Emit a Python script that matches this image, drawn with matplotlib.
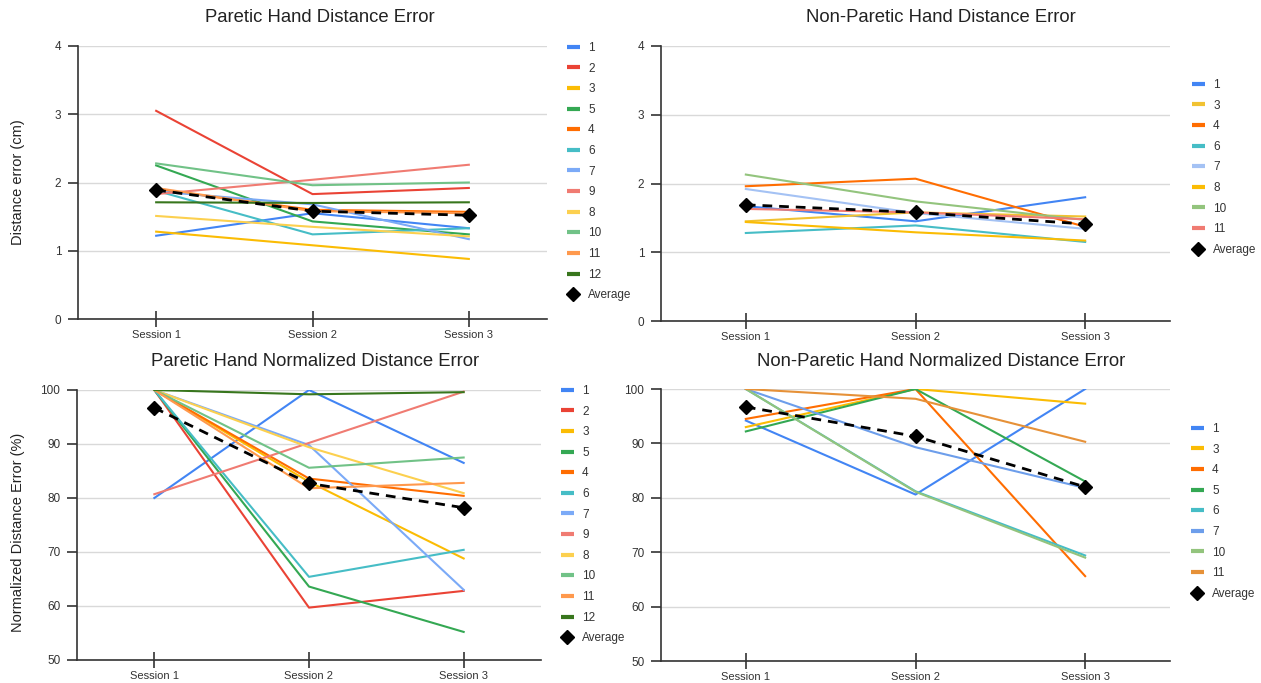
import matplotlib
matplotlib.use("Agg")
import matplotlib.pyplot as plt
from matplotlib.lines import Line2D

plt.rcParams['font.family'] = ['Liberation Sans', 'DejaVu Sans']

W, H = 1261, 683

sessions = ['Session 1', 'Session 2', 'Session 3']

# Paretic hand distance error (cm)
p_dist_ids = ['1', '2', '3', '5', '4', '6', '7', '9', '8', '10', '11', '12']
p_dist = [
    [1.22, 1.55, 1.33],
    [3.05, 1.83, 1.92],
    [1.28, 1.08, 0.88],
    [2.25, 1.43, 1.24],
    [1.90, 1.60, 1.57],
    [1.88, 1.24, 1.33],
    [1.87, 1.68, 1.17],
    [1.83, 2.04, 2.26],
    [1.51, 1.35, 1.21],
    [2.28, 1.96, 2.00],
    [1.92, 1.58, 1.55],
    [1.71, 1.70, 1.71],
]
p_dist_avg = [1.89, 1.58, 1.52]

# Non-paretic hand distance error (cm)
np_dist_ids = ['1', '3', '4', '6', '7', '8', '10', '11']
np_dist = [
    [1.67, 1.45, 1.80],
    [1.45, 1.58, 1.52],
    [1.96, 2.07, 1.37],
    [1.28, 1.39, 1.15],
    [1.92, 1.57, 1.34],
    [1.44, 1.29, 1.17],
    [2.13, 1.74, 1.47],
    [1.63, 1.58, 1.48],
]
np_dist_avg = [1.69, 1.58, 1.41]

# Paretic hand normalized distance error (%)
p_norm_ids = p_dist_ids
p_norm = [
    [80.0, 100.0, 86.5],
    [100.0, 59.7, 62.8],
    [100.0, 83.0, 68.8],
    [100.0, 63.6, 55.2],
    [100.0, 83.6, 80.4],
    [100.0, 65.4, 70.4],
    [100.0, 89.8, 63.0],
    [80.7, 90.2, 99.7],
    [100.0, 89.4, 80.9],
    [100.0, 85.6, 87.5],
    [100.0, 81.8, 82.8],
    [100.0, 99.2, 99.6],
]
p_norm_avg = [96.7, 82.7, 78.2]

# Non-paretic hand normalized distance error (%)
np_norm_ids = ['1', '3', '4', '5', '6', '7', '10', '11']
np_norm = [
    [94.2, 80.6, 100.0],
    [93.0, 100.0, 97.3],
    [94.5, 100.0, 65.6],
    [92.2, 100.0, 83.0],
    [100.0, 81.2, 69.4],
    [100.0, 89.3, 81.8],
    [100.0, 81.1, 69.0],
    [100.0, 98.2, 90.3],
]
np_norm_avg = [96.7, 91.3, 82.0]

p_colors = ['#4285F4', '#EA4335', '#FBBC04', '#34A853', '#FF6D01', '#46BDC6',
            '#7BAAF7', '#F07B72', '#FCD04F', '#71C287', '#FF994D', '#38761D']
np_dist_colors = ['#4285F4', '#F1C232', '#FF6D01', '#46BDC6', '#A4C2F4',
                  '#FBBC04', '#93C47D', '#F07B72']
np_norm_colors = ['#4285F4', '#FBBC04', '#FF6D01', '#34A853', '#46BDC6',
                  '#6D9EEB', '#93C47D', '#E69138']


def px_rect(l, t, r, b):
    return [l / W, (H - b) / H, (r - l) / W, (b - t) / H]


def draw_panel(fig, rect, ids, values, avg, colors, ylim, yticks, legend_xy):
    ax = fig.add_axes(px_rect(*rect))
    x = range(len(sessions))
    for vals, c in zip(values, colors):
        ax.plot(x, vals, color=c, lw=1.5)
    ax.plot(x, avg, color='black', lw=2, ls=(0, (3.5, 2.5)), marker='D', ms=7)

    ax.set_xlim(-0.5, len(sessions) - 0.5)
    ax.set_ylim(*ylim)
    ax.set_xticks(list(x))
    ax.set_xticklabels(sessions)
    ax.set_yticks(yticks)
    ax.yaxis.grid(True, color='#d9d9d9', lw=1)
    ax.set_axisbelow(True)
    for s in ['top', 'right']:
        ax.spines[s].set_visible(False)
    for s in ['left', 'bottom']:
        ax.spines[s].set_color('#333333')
        ax.spines[s].set_linewidth(1.2)
    ax.tick_params(axis='y', direction='out', length=7, width=1.2, color='#333333',
                   labelsize=8.5, labelcolor='#333333', pad=5)
    ax.tick_params(axis='x', direction='inout', length=12, width=1.2, color='#333333',
                   labelsize=8, labelcolor='#333333', pad=2)

    handles = [Line2D([], [], color=c, lw=3, solid_capstyle='butt') for c in colors]
    handles.append(Line2D([], [], color='black', ls='none', marker='D', ms=7))
    labels = list(ids) + ['Average']
    fig.legend(handles, labels, loc='upper left',
               bbox_to_anchor=(legend_xy[0] / W, 1 - legend_xy[1] / H),
               bbox_transform=fig.transFigure, frameon=False, borderpad=0,
               fontsize=8.5, labelspacing=0.73, handlelength=1.1,
               handletextpad=0.7, labelcolor='#333333')
    return ax


fig = plt.figure(figsize=(W / 100, H / 100), dpi=100)

draw_panel(fig, (78, 46, 547, 319), p_dist_ids, p_dist, p_dist_avg, p_colors,
           (0, 4), [0, 1, 2, 3, 4], (561, 36))
draw_panel(fig, (661, 46, 1170, 321), np_dist_ids, np_dist, np_dist_avg, np_dist_colors,
           (0, 4), [0, 1, 2, 3, 4], (1186, 73))
draw_panel(fig, (77, 390, 541, 660), p_norm_ids, p_norm, p_norm_avg, p_colors,
           (50, 100), [50, 60, 70, 80, 90, 100], (555, 379))
draw_panel(fig, (661, 389, 1170, 661), np_norm_ids, np_norm, np_norm_avg, np_norm_colors,
           (50, 100), [50, 60, 70, 80, 90, 100], (1185, 417))

fig.text(320 / W, 1 - 18 / H, 'Paretic Hand Distance Error', ha='center', va='center',
         fontsize=13.3, color='#222222')
fig.text(941 / W, 1 - 18 / H, 'Non-Paretic Hand Distance Error', ha='center', va='center',
         fontsize=13.3, color='#222222')
fig.text(315 / W, 1 - 362 / H, 'Paretic Hand Normalized Distance Error', ha='center',
         va='center', fontsize=13.3, color='#222222')
fig.text(941 / W, 1 - 362 / H, 'Non-Paretic Hand Normalized Distance Error', ha='center',
         va='center', fontsize=13.3, color='#222222')

fig.text(18 / W, 1 - 182 / H, 'Distance error (cm)', rotation=90, ha='center',
         va='center', fontsize=10.5, color='#222222')
fig.text(18 / W, 1 - 532 / H, 'Normalized Distance Error (%)', rotation=90, ha='center',
         va='center', fontsize=10.5, color='#222222')

fig.savefig('out.png', dpi=100)
